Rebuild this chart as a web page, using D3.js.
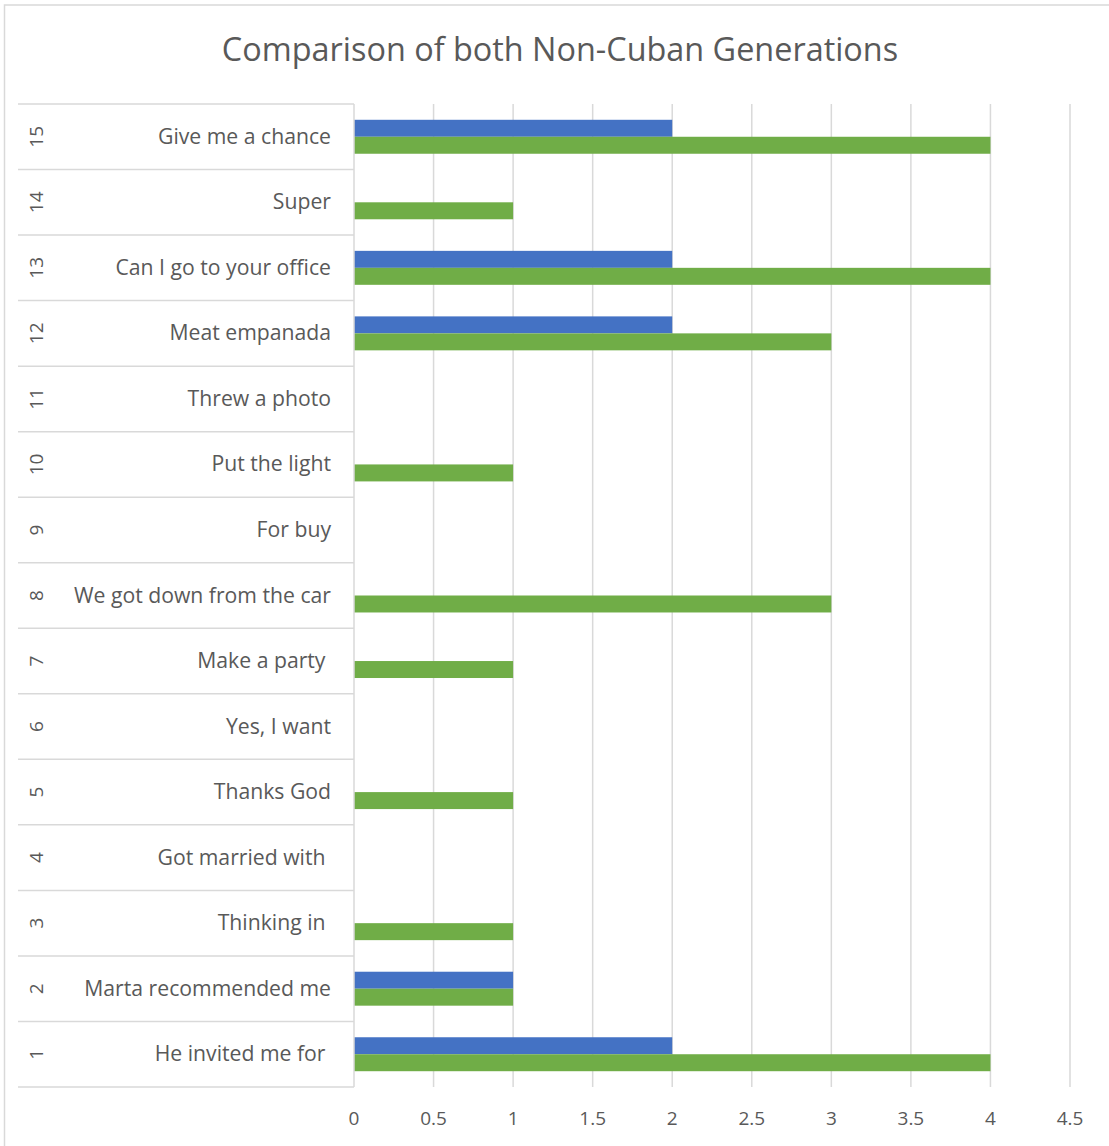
<!DOCTYPE html>
<html>
<head>
<meta charset="utf-8">
<script src="https://cdn.jsdelivr.net/npm/d3@7"></script>
<style>
  body { margin: 0; background: #fff; }
  text { font-family: "Open Sans", "Noto Sans", sans-serif; fill: #595959; }
</style>
</head>
<body>
<svg id="svg" width="1109" height="1146"></svg>
<script>
const width = 1109;
const height = 1146;
const title = 'Comparison of both Non-Cuban Generations';

// categories listed bottom (1) to top (15)
const numbers = ['1', '2', '3', '4', '5', '6', '7', '8', '9', '10', '11', '12', '13', '14', '15'];
const phrases = [
	'He invited me for ', 'Marta recommended me', 'Thinking in ', 'Got married with ',
	'Thanks God', 'Yes, I want', 'Make a party ', 'We got down from the car', 'For buy',
	'Put the light', 'Threw a photo', 'Meat empanada', 'Can I go to your office', 'Super',
	'Give me a chance'
];
const blueValues = [2, 1, 0, 0, 0, 0, 0, 0, 0, 0, 0, 2, 2, 0, 2];
const greenValues = [4, 1, 1, 0, 1, 0, 1, 3, 0, 1, 0, 3, 4, 1, 4];
const xTicks = [0, 0.5, 1, 1.5, 2, 2.5, 3, 3.5, 4, 4.5];

const colors = { blue: '#4472C4', green: '#70AD47' };
const gridColor = '#D9D9D9';

const plot = { left: 354, right: 1070, top: 104, bottom: 1087 };
const labelLeft = 18;

const svg = d3.select('#svg');

// chart border
svg.append('rect')
	.attr('x', 4.5).attr('y', 5)
	.attr('width', width + 10).attr('height', height + 10)
	.attr('fill', 'none')
	.attr('stroke', gridColor)
	.attr('stroke-width', 1.5);

svg.append('text')
	.attr('x', 560).attr('y', 61)
	.attr('text-anchor', 'middle')
	.attr('font-size', 32.4)
	.text(title);

const xScale = d3.scaleLinear()
	.domain([0, 4.5])
	.range([plot.left, plot.right]);

// top row = 15
const yScale = d3.scaleBand()
	.domain(numbers.slice().reverse())
	.range([plot.top, plot.bottom]);

const inner = d3.scaleBand()
	.domain(['blue', 'green'])
	.range([0, yScale.bandwidth()])
	.paddingOuter(0.93)
	.paddingInner(0);

// vertical gridlines
svg.append('g')
	.selectAll('line')
	.data(xTicks.slice(1))
	.join('line')
	.attr('x1', d => xScale(d)).attr('x2', d => xScale(d))
	.attr('y1', plot.top).attr('y2', plot.bottom)
	.attr('stroke', gridColor)
	.attr('stroke-width', 1.5);

// x tick labels
svg.append('g')
	.selectAll('text')
	.data(xTicks)
	.join('text')
	.attr('x', d => xScale(d))
	.attr('y', 1125)
	.attr('text-anchor', 'middle')
	.attr('font-size', 19)
	.text(d => d);

// category row separators
const bounds = numbers.map(n => yScale(n)).concat([plot.bottom]);
svg.append('g')
	.selectAll('line')
	.data(bounds)
	.join('line')
	.attr('x1', labelLeft).attr('x2', plot.left)
	.attr('y1', d => d).attr('y2', d => d)
	.attr('stroke', gridColor)
	.attr('stroke-width', 1.5);

// bars
const rows = numbers.map((n, i) => ({ n, blue: blueValues[i], green: greenValues[i] }));
const bars = [];
rows.forEach(r => {
	bars.push({ n: r.n, key: 'blue', v: r.blue });
	bars.push({ n: r.n, key: 'green', v: r.green });
});
svg.append('g')
	.selectAll('rect')
	.data(bars.filter(d => d.v > 0))
	.join('rect')
	.attr('x', xScale(0))
	.attr('y', d => yScale(d.n) + inner(d.key))
	.attr('width', d => xScale(d.v) - xScale(0))
	.attr('height', inner.bandwidth())
	.attr('fill', d => colors[d.key]);

// category axis line
svg.append('line')
	.attr('x1', plot.left).attr('x2', plot.left)
	.attr('y1', plot.top).attr('y2', plot.bottom)
	.attr('stroke', gridColor)
	.attr('stroke-width', 1.5);

// number labels (rotated)
svg.append('g')
	.selectAll('text')
	.data(numbers)
	.join('text')
	.attr('transform', d => `translate(43,${yScale(d) + yScale.bandwidth() / 2}) rotate(-90)`)
	.attr('text-anchor', 'middle')
	.attr('font-size', 19)
	.text(d => d);

// phrase labels
svg.append('g')
	.selectAll('text')
	.data(numbers)
	.join('text')
	.attr('x', 331)
	.attr('y', d => yScale(d) + yScale.bandwidth() / 2 + 7)
	.attr('text-anchor', 'end')
	.attr('font-size', 21.2)
	.style('white-space', 'pre')
	.text((d, i) => phrases[i]);
</script>
</body>
</html>
